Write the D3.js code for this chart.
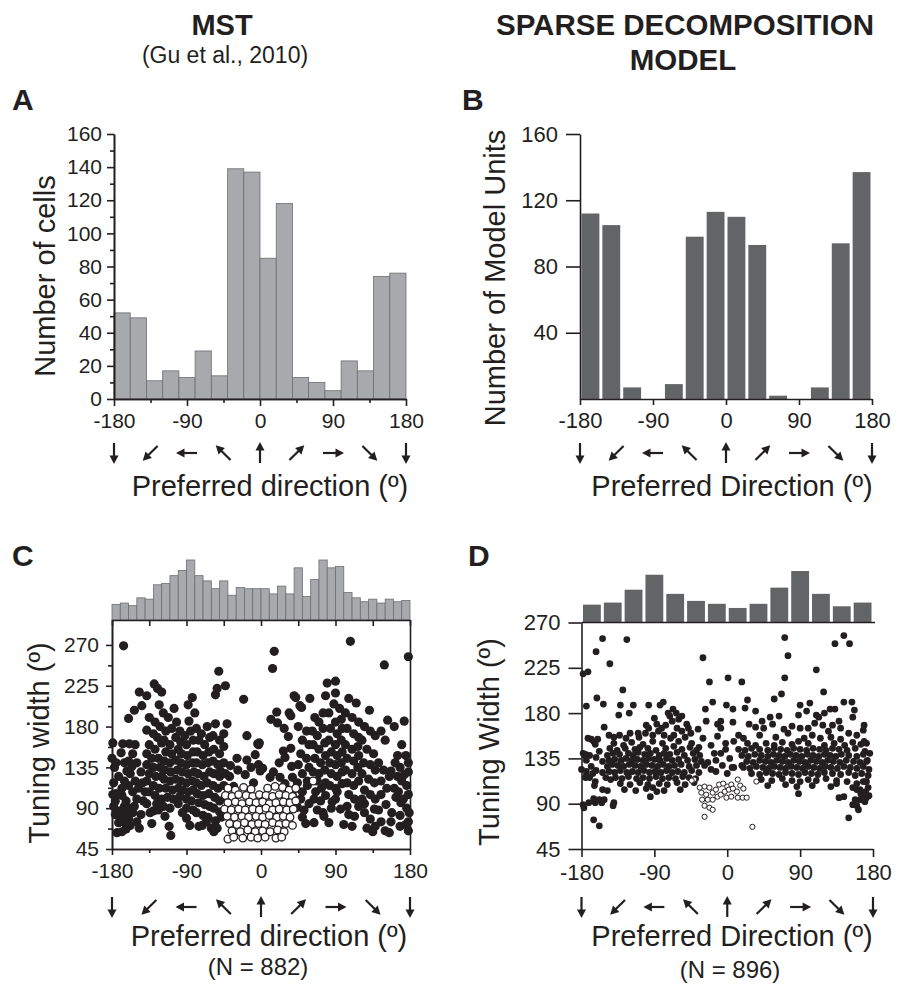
<!DOCTYPE html>
<html>
<head>
<meta charset="utf-8">
<script src="https://cdn.jsdelivr.net/npm/d3@7"></script>
<style>
  body { margin: 0; background: #fff; }
  svg text { font-family: "Liberation Sans", Arial, Helvetica, sans-serif; fill: #231f20; }
</style>
</head>
<body>
<div id="graph"></div>
<script>
const width = 905;
const height = 986;

const black = "#231f20";
const lightGray = "#a7a9ac";
const lightEdge = "#6d6e71";
const darkGray = "#636466";
const fontFamily = '"Liberation Sans", Arial, Helvetica, sans-serif';

// direction ticks and arrow glyphs
const dirMajor = [-180, -90, 0, 90, 180];
const dirMinor = [-135, -45, 45, 135];
const arrowDirs = [-180, -135, -90, -45, 0, 45, 90, 135, 180];

// A: MST preferred direction histogram (20 deg bins)
const mstCounts = [52, 49, 11, 17, 13, 29, 14, 139, 137, 85, 118, 13, 10, 5, 23, 17, 74, 76];
const mstCountTicks = [0, 20, 40, 60, 80, 100, 120, 140, 160];
const mstCountMinor = [10, 30, 50, 70, 90, 110, 130, 150];

// B: model preferred direction histogram (14 bins)
const modelCounts = [112, 105, 7, 0, 9, 98, 113, 110, 93, 2, 0, 7, 94, 137];
const modelCountTicks = [40, 80, 120, 160];

// C / D: tuning width
const widthTicks = [45, 90, 135, 180, 225, 270];
const widthMinor = [67.5, 112.5, 157.5, 202.5, 247.5];
const mstWidthHist = [12, 13, 11, 17, 16, 27, 28, 34, 38, 46, 34, 30, 24, 30, 19, 25, 24, 24,
  24, 20, 26, 20, 40, 18, 31, 46, 40, 41, 21, 17, 14, 16, 13, 16, 14, 15];
const modelWidthHist = [43, 48, 79, 115, 69, 52, 45, 35, 45, 84, 124, 69, 39, 48];

// C: [preferred direction, tuning width]
const mstFilled = [
  [-166,269],[-179,162],[-180,145],[-177,135],[-178,118],[-179,105],[-175,106],[-176,98],[-178,92],[-176,83],[-172,74],[-174,63],[-170,87],[-168,112],[-167,161],[-159,161],[-169,151],[-165,140],[-175,140],[-162,131],[-172,125],[-165,120],[-160,115],[-168,104],[-163,98],[-165,92],[-165,82],[-160,78],[-168,64],[-163,67],[-158,71],[-160,189],[-170,80],[-161,88],[-164,73],
  [-153,198],[-147,218],[-144,203],[-152,160],[-155,150],[-150,140],[-145,130],[-158,128],[-152,120],[-148,112],[-155,108],[-143,118],[-140,108],[-153,92],[-159,90],[-145,83],[-150,75],[-147,68],[-155,85],[-142,98],[-150,100],[-156,136],[-160,142],
  [-129,227],[-125,222],[-120,218],[-138,214],[-123,204],[-135,190],[-128,185],[-122,180],[-138,176],[-130,172],[-125,168],[-135,160],[-120,162],[-128,155],[-138,150],[-132,145],[-124,145],[-138,138],[-130,135],[-122,135],[-135,128],[-127,125],[-120,125],[-138,120],[-130,115],[-123,112],[-135,108],[-128,104],[-120,100],[-138,95],[-132,73],[-130,87],[-124,88],[-126,95],[-134,85],
  [-116,81],[-111,70],[-109,60],[-118,195],[-112,190],[-105,200],[-115,175],[-108,178],[-102,185],[-117,165],[-110,160],[-103,168],[-115,152],[-108,150],[-100,155],[-117,142],[-110,140],[-103,143],[-116,132],[-109,130],[-101,132],[-117,122],[-110,120],[-103,122],[-115,112],[-107,110],[-100,112],[-113,102],[-106,100],[-100,95],[-118,92],[-110,90],
  [-88,204],[-83,212],[-80,195],[-87,186],[-98,175],[-92,170],[-85,175],[-97,163],[-90,160],[-82,165],[-96,150],[-89,148],[-82,152],[-97,140],[-90,138],[-83,140],[-95,130],[-88,128],[-81,130],[-97,120],[-90,118],[-83,120],[-95,110],[-88,108],[-82,110],[-98,103],[-90,100],[-84,98],[-90,90],[-90,79],[-86,71],[-95,85],[-82,88],
  [-75,70],[-71,71],[-78,178],[-72,172],[-65,180],[-75,165],[-68,160],[-62,168],[-77,152],[-70,148],[-63,152],[-78,140],[-71,138],[-64,140],[-76,128],[-69,125],[-62,130],[-78,118],[-72,115],[-65,118],[-77,106],[-70,104],[-63,106],[-75,96],[-68,94],[-62,92],[-78,85],[-70,82],[-64,80],[-66,75],
  [-51,241],[-53,222],[-43,225],[-55,215],[-41,183],[-55,183],[-58,170],[-50,165],[-45,172],[-57,155],[-50,150],[-45,158],[-58,142],[-52,138],[-45,140],[-57,128],[-50,125],[-43,128],[-58,115],[-52,112],[-45,115],[-56,102],[-50,98],[-43,102],[-57,90],[-50,86],[-55,76],[-57,64],[-53,68],[-48,80],[-60,68],
  [-21,210],[-17,170],[-4,161],[-29,145],[-17,143],[-7,149],[-3,160],[-1,131],[-19,127],[-9,118],[-33,114],[-49,131],[-37,137],[-38,125],[-28,132],[-12,135],[-3,138],
  [16,263],[14,244],[2,134],[11,124],[-2,162],[40,214],[47,203],[19,196],[34,195],[12,188],[20,184],[36,192],[42,212],[49,201],[28,178],[33,169],[36,156],[29,146],[15,130],[23,124],[37,136],[29,117],[38,124],[44,91],[38,104],[42,112],[27,153],[22,140],
  [59,211],[50,165],[55,175],[45,180],[58,160],[48,150],[55,145],[45,138],[58,135],[50,128],[56,120],[50,108],[56,115],[44,118],[54,73],[50,80],[64,74],[58,95],[48,100],[52,88],
  [80,228],[78,214],[65,190],[70,185],[75,195],[62,175],[68,170],[75,178],[63,160],[70,155],[77,162],[65,145],[72,140],[78,148],[63,130],[70,128],[77,132],[66,108],[73,112],[78,118],[64,100],[72,98],[78,104],[68,88],[75,85],[82,74],[76,81],[68,120],
  [90,230],[90,217],[88,205],[95,200],[82,195],[90,185],[97,188],[84,178],[92,172],[98,178],[82,165],[90,160],[97,165],[85,152],[92,148],[98,152],[83,140],[90,138],[97,140],[85,128],[92,125],[98,130],[83,115],[90,112],[98,117],[86,97],[92,108],[96,89],[100,72],[85,90],[90,100],
  [108,274],[106,211],[115,206],[102,195],[110,190],[118,185],[104,178],[112,172],[118,168],[102,160],[110,155],[117,158],[104,145],[112,142],[118,148],[102,132],[110,128],[117,135],[104,118],[112,115],[118,120],[106,105],[113,100],[106,83],[113,81],[104,92],[118,92],[110,70],
  [131,198],[125,180],[132,175],[138,170],[122,165],[128,155],[136,150],[124,140],[132,138],[138,132],[122,128],[130,122],[137,118],[125,110],[132,105],[138,100],[125,95],[137,89],[125,85],[132,78],[138,70],[128,68],[135,64],[122,100],
  [149,248],[153,187],[161,180],[145,175],[150,165],[165,148],[157,131],[142,140],[148,132],[155,125],[145,120],[152,112],[161,112],[145,105],[151,94],[157,75],[145,75],[163,102],[169,96],[150,65],[155,63],[142,88],[158,85],
  [178,257],[173,186],[175,148],[168,135],[173,127],[179,85],[176,90],[168,82],[178,140],[178,130],[170,120],[176,115],[166,108],[172,100],[178,105],[175,72],[178,65],[168,70],[165,125],[162,140],[170,160],[178,75]
];
const mstOpen = [
  [-40,112],[-31,110],[-21,113],[-12,111],[8,112],[17,114],[26,113],[34,110],[42,112],
  [-43,104],[-35,103],[-27,105],[-18,104],[-10,103],[-2,105],[6,104],[14,103],[22,105],[30,104],[38,103],
  [-40,96],[-31,97],[-23,95],[-14,97],[-6,96],[2,97],[10,95],[18,96],[27,97],[35,96],[42,98],
  [-44,89],[-36,88],[-27,89],[-19,88],[-10,89],[-2,88],[6,90],[14,88],[22,89],[31,88],[39,89],
  [-41,81],[-32,80],[-23,81],[-15,80],[-6,81],[2,80],[10,82],[19,80],[27,81],[35,80],
  [-38,73],[-29,72],[-20,74],[-11,72],[-3,73],[5,72],[14,74],[22,72],[30,73],[38,71],
  [-35,65],[-25,64],[-16,66],[-7,64],[2,65],[11,64],[20,66],[28,64],
  [-40,56],[-33,58],[-22,57],[-12,58],[-4,57],[5,58],[18,57],[25,58],[63,120]
];

// D: [preferred direction, tuning width]
const modelFilled = [
  [-178,219],[-172,221],[-162,241],[-154,254],[-145,229],[-124,253],[-129,203],[-30,235],[-22,211],[-174,187],[-161,195],[-153,189],
  [-132,188],[-116,188],[-121,180],[-134,178],[-97,188],[-83,188],[-79,191],[-27,184],[-18,191],
  [-152,166],[-146,158],[-160,154],[-168,154],[-172,155],[-165,152],[-163,149],[-158,142],[-175,139],[-178,140],[-176,138],
  [-166,120],[-163,112],[-175,116],[-180,124],[-174,122],[-174,118],[-170,116],[-170,138],[-162,136],[-154,132],[-174,133],[-168,127],[-162,123],[-154,121],[-150,116],[-144,114],
  [-164,108],[-154,104],[-148,103],[-165,95],[-158,94],[-152,94],[-177,86],[-171,91],[-163,91],[-155,91],[-178,89],[-141,88],[-165,74],[-158,68],[-140,91],
  [-95,97],[-87,102],[-133,158],[-120,160],[-109,156],[-101,160],[-97,165],[-87,169],[-81,165],[-71,177],[-63,180],[-56,177],[-50,169],[-48,165],[-36,164],[-26,172],[-12,169],[-8,165],[-20,148],[-24,131],[-14,133],[-8,140],
  [-140,150],[-128,148],[-118,151],[-104,149],[-92,152],[-80,150],[-70,155],[-60,152],[-52,156],[-44,150],
  [-145,145],[-136,143],[-126,145],[-114,144],[-108,146],[-98,145],[-88,143],[-76,145],[-66,147],[-56,144],[-46,146],[-38,143],
  [-148,138],[-141,140],[-133,139],[-122,140],[-116,138],[-110,141],[-102,139],[-95,140],[-84,138],[-78,140],[-71,139],[-62,141],[-53,138],[-42,140],[-34,138],
  [-146,133],[-139,134],[-131,133],[-125,135],[-118,133],[-111,134],[-104,133],[-97,135],[-90,134],[-83,133],[-75,135],[-68,133],[-60,134],[-49,133],[-40,134],[-32,132],
  [-148,127],[-142,129],[-135,128],[-128,127],[-121,129],[-114,128],[-107,127],[-100,129],[-93,128],[-86,127],[-79,129],[-72,127],[-65,128],[-57,129],[-47,127],[-38,128],
  [-146,122],[-139,121],[-132,123],[-124,121],[-117,122],[-110,121],[-103,123],[-96,121],[-89,122],[-82,121],[-75,123],[-68,121],[-61,122],[-53,121],[-44,123],[-35,121],
  [-138,116],[-130,115],[-122,117],[-112,115],[-104,116],[-96,115],[-88,117],[-80,115],[-72,116],[-64,115],[-55,117],[-47,116],[-39,115],
  [-132,110],[-120,109],[-108,111],[-98,109],[-92,106],[-84,110],[-74,109],[-62,111],[-52,109],[-41,111],
  [-127,104],[-113,103],[-100,105],[-78,103],[-58,104],
  [-110,160],[-100,168],[-92,158],[-85,162],[-76,168],[-68,172],[-62,165],[-56,162],[-45,160],[-78,158],[-66,158],[-125,155],[-140,156],[-90,175],[-60,174],[-73,180],[-67,184],
  [-30,155],[-28,128],[-20,124],[-14,122],[-6,128],[-2,150],[3,135],[-35,146],[-12,157],[-16,140],[0,120],[8,126],
  [71,255],[75,237],[71,215],[110,223],[144,257],[133,249],[151,249],[1,215],[18,211],[67,199],[58,194],[119,201],[25,193],[-1,188],[7,184],[90,188],[102,190],[127,184],[133,184],[144,191],[154,191],[157,183],[169,168],[169,152],[113,176],[88,178],[64,177],[22,185],[35,182],[-8,172],[7,171],[27,169],[53,176],[43,172],[56,169],[150,76],[155,89],[158,94],[167,96],[171,102],[138,96],[144,97],[14,158],[8,152],[-2,144],[18,128],[6,126],
  [164,94],[168,112],[160,104],[135,110],[172,132],[168,163],[155,176],
  [20,155],[40,158],[60,156],[75,160],[95,155],[105,158],[115,155],[128,156],[140,154],[150,160],
  [25,150],[35,148],[48,150],[58,148],[68,151],[80,149],[88,152],[100,150],[120,148],[132,150],[145,148],[155,151],[165,149],
  [14,144],[22,143],[30,145],[40,144],[50,143],[58,145],[66,144],[74,143],[82,145],[90,144],[98,143],[106,145],[114,144],[122,143],[130,145],[138,144],[148,143],[158,145],[170,142],
  [18,138],[26,137],[34,139],[42,138],[50,137],[57,139],[64,138],[71,137],[78,139],[85,138],[92,137],[99,139],[106,138],[113,137],[120,139],[127,138],[134,137],[141,139],[150,138],[160,137],[168,139],
  [24,132],[32,131],[40,133],[47,132],[54,131],[61,133],[68,132],[75,131],[82,133],[89,132],[96,131],[103,133],[110,132],[117,131],[124,133],[131,132],[139,131],[147,133],[156,132],[164,131],[173,133],
  [20,126],[28,125],[36,127],[44,126],[51,125],[58,127],[65,126],[72,125],[79,127],[86,126],[93,125],[100,127],[107,126],[114,125],[121,127],[128,126],[136,125],[144,127],[152,126],[160,125],[168,127],
  [30,120],[40,119],[48,121],[56,120],[64,119],[72,121],[80,120],[88,119],[96,121],[104,120],[112,119],[120,121],[130,120],[140,119],[150,121],[158,118],[166,120],[174,118],
  [42,114],[55,113],[68,115],[80,113],[90,112],[100,114],[110,113],[122,115],[135,113],[148,112],[160,110],[170,112],
  [50,108],[72,109],[86,107],[105,108],[128,107],[155,106],[164,104],[174,106],
  [88,100],[165,100],[172,96],
  [100,165],[108,170],[118,168],[125,162],[130,168],[90,165],[80,167],[70,164],[45,165],[35,166],[140,165],[110,178],[120,180],[98,182],[138,172],[160,158],[172,150],[176,140],[175,124],[172,112],[170,92],[162,84],[160,88],[175,98]
];
const modelOpen = [
  [-41,114],[-44,113],[-34,106],[-28,107],[-22,106],[-32,101],[-26,99],[-18,101],[-14,104],[-10,109],[-31,94],[-24,94],[-18,94],[-12,97],[-28,88],[-22,86],[-18,84],[-28,77],[-8,99],
  [-5,110],[0,107],[5,109],[-3,102],[2,104],[7,105],[13,114],[16,108],[20,105],[12,102],[-1,96],[5,97],[13,96],[19,96],[24,96],[36,112],[31,67]
];

let plain = d => String(d);

let svg = d3.select('#graph')
  .append('svg')
  .attr('width', width)
  .attr('height', height);

function styleAxis(g, fontSize) {
  g.selectAll('path, line').attr('stroke', black).attr('stroke-width', 1.6);
  g.selectAll('text')
    .attr('fill', black)
    .attr('font-family', fontFamily)
    .attr('font-size', fontSize);
}

function addText(txt, x, y, size, opts = {}) {
  let t = svg.append('text')
    .attr('x', x)
    .attr('y', y)
    .attr('text-anchor', opts.anchor || 'middle')
    .attr('font-size', size)
    .attr('font-weight', opts.bold ? 'bold' : 'normal')
    .text(txt);
  if (opts.rotate) {
    t.attr('x', 0).attr('y', 0)
      .attr('transform', `translate(${x},${y}) rotate(-90)`);
  }
  return t;
}

function drawArrows(x, cy) {
  let arrow = svg.append('g').attr('class', 'arrows')
    .selectAll('g').data(arrowDirs).enter()
    .append('g')
    .attr('transform', d => `translate(${x(d)},${cy}) rotate(${d})`);
  arrow.append('line')
    .attr('x1', 0).attr('y1', 10)
    .attr('x2', 0).attr('y2', -4)
    .attr('stroke', black)
    .attr('stroke-width', 2.2);
  arrow.append('path')
    .attr('d', 'M0,-11L-4.5,-2.5L4.5,-2.5Z')
    .attr('fill', black);
}

function drawBars(g, counts, x, y, fill, stroke, gap) {
  let step = 360 / counts.length;
  g.selectAll('rect').data(counts).enter()
    .append('rect')
    .attr('x', (d, i) => x(-180 + i * step) + gap)
    .attr('width', (d, i) => x(-180 + (i + 1) * step) - x(-180 + i * step) - 2 * gap)
    .attr('y', d => y(d))
    .attr('height', d => y(0) - y(d))
    .attr('fill', fill)
    .attr('stroke', stroke || 'none')
    .attr('stroke-width', stroke ? 0.8 : 0);
}

// ---------- titles ----------
addText('MST', 222, 35, 29, { bold: true });
addText('(Gu et al., 2010)', 225, 63, 23);
addText('SPARSE DECOMPOSITION', 685, 35, 29.5, { bold: true });
addText('MODEL', 683, 70, 29.5, { bold: true });
addText('A', 12, 110, 30, { bold: true, anchor: 'start' });
addText('B', 462, 110, 30, { bold: true, anchor: 'start' });
addText('C', 12, 566, 30, { bold: true, anchor: 'start' });
addText('D', 468, 566, 30, { bold: true, anchor: 'start' });

// ---------- A ----------
let xA = d3.scaleLinear().domain([-180, 180]).range([114, 406]);
let yA = d3.scaleLinear().domain([0, 160]).range([399, 134]);
drawBars(svg.append('g').attr('class', 'bars-a'), mstCounts, xA, yA, lightGray, lightEdge, 0);
let axA = svg.append('g').attr('class', 'axis');
axA.append('g').attr('transform', 'translate(114,0)')
  .call(d3.axisLeft(yA).tickValues(mstCountMinor).tickSize(4).tickSizeOuter(0).tickFormat(''));
axA.append('g').attr('transform', 'translate(114,0)')
  .call(d3.axisLeft(yA).tickValues(mstCountTicks).tickSize(7).tickSizeOuter(0).tickPadding(5).tickFormat(plain));
axA.append('g').attr('transform', 'translate(0,399)')
  .call(d3.axisBottom(xA).tickValues(dirMinor).tickSize(4).tickSizeOuter(0).tickFormat(''));
axA.append('g').attr('transform', 'translate(0,399)')
  .call(d3.axisBottom(xA).tickValues(dirMajor).tickSize(7).tickSizeOuter(0).tickPadding(7).tickFormat(plain));
styleAxis(axA, 21);
drawArrows(xA, 453);
addText('Number of cells', 55, 276, 29, { rotate: true });
addText('Preferred direction (º)', 270, 496, 29);

// ---------- B ----------
let xB = d3.scaleLinear().domain([-180, 180]).range([580, 872]);
let yB = d3.scaleLinear().domain([0, 160]).range([399, 134]);
drawBars(svg.append('g').attr('class', 'bars-b'), modelCounts, xB, yB, darkGray, null, 1.5);
let axB = svg.append('g').attr('class', 'axis');
axB.append('g').attr('transform', 'translate(580,0)')
  .call(d3.axisLeft(yB).tickValues(modelCountTicks).tickSize(14).tickSizeOuter(0).tickPadding(8).tickFormat(plain));
axB.append('g').attr('transform', 'translate(0,399)')
  .call(d3.axisBottom(xB).tickValues(dirMajor).tickSize(6).tickSizeOuter(0).tickPadding(7).tickFormat(plain));
styleAxis(axB, 22);
drawArrows(xB, 453);
addText('Number of Model Units', 505, 278, 29, { rotate: true });
addText('Preferred Direction (º)', 732, 496, 29);

// ---------- C ----------
let xC = d3.scaleLinear().domain([-180, 180]).range([112, 410]);
let yC = d3.scaleLinear().domain([45, 297.5]).range([849, 620]);
let hC = d3.scaleLinear().domain([0, 46]).range([620, 560]);
drawBars(svg.append('g').attr('class', 'hist-c'), mstWidthHist, xC, hC, lightGray, lightEdge, 0);

let dotsC = svg.append('g').attr('class', 'dots-c');
dotsC.selectAll('.dot').data(mstFilled).enter()
  .append('circle')
  .attr('class', 'dot')
  .attr('cx', d => xC(d[0]))
  .attr('cy', d => yC(d[1]))
  .attr('r', 4.6)
  .attr('fill', black);
dotsC.selectAll('.open').data(mstOpen).enter()
  .append('circle')
  .attr('class', 'open')
  .attr('cx', d => xC(d[0]))
  .attr('cy', d => yC(d[1]))
  .attr('r', 3.8)
  .attr('fill', '#fff')
  .attr('stroke', black)
  .attr('stroke-width', 1.3);

let axC = svg.append('g').attr('class', 'axis');
axC.append('g').attr('transform', 'translate(112,0)')
  .call(d3.axisLeft(yC).tickValues(widthMinor).tickSize(4).tickSizeOuter(0).tickFormat(''));
axC.append('g').attr('transform', 'translate(112,0)')
  .call(d3.axisLeft(yC).tickValues(widthTicks).tickSize(6).tickSizeOuter(0).tickPadding(7).tickFormat(plain));
axC.append('g').attr('transform', 'translate(0,849)')
  .call(d3.axisBottom(xC).tickValues(dirMinor).tickSize(4).tickSizeOuter(0).tickFormat(''));
axC.append('g').attr('transform', 'translate(0,849)')
  .call(d3.axisBottom(xC).tickValues(dirMajor).tickSize(6).tickSizeOuter(0).tickPadding(8).tickFormat(plain));
// top frame with inward ticks
axC.append('g').attr('transform', 'translate(0,620)')
  .call(d3.axisBottom(xC).tickValues(dirMajor.concat(dirMinor)).tickSize(6).tickSizeOuter(0).tickFormat(''));
// right frame
axC.append('g').attr('transform', 'translate(410,0)')
  .call(d3.axisRight(yC).tickValues([]).tickSizeOuter(0));
styleAxis(axC, 21);
drawArrows(xC, 907);
addText('Tuning width (º)', 49, 743, 29, { rotate: true });
addText('Preferred direction (º)', 269, 946, 29);
addText('(N = 882)', 258, 975, 24);

// ---------- D ----------
let xD = d3.scaleLinear().domain([-180, 180]).range([581.5, 873]);
let yD = d3.scaleLinear().domain([45, 270]).range([849, 622.5]);
let hD = d3.scaleLinear().domain([0, 124]).range([622.5, 571]);
drawBars(svg.append('g').attr('class', 'hist-d'), modelWidthHist, xD, hD, darkGray, null, 1.5);

let dotsD = svg.append('g').attr('class', 'dots-d');
dotsD.selectAll('.dot').data(modelFilled).enter()
  .append('circle')
  .attr('class', 'dot')
  .attr('cx', d => xD(d[0]))
  .attr('cy', d => yD(d[1]))
  .attr('r', 3.4)
  .attr('fill', black);
dotsD.selectAll('.open').data(modelOpen).enter()
  .append('circle')
  .attr('class', 'open')
  .attr('cx', d => xD(d[0]))
  .attr('cy', d => yD(d[1]))
  .attr('r', 2.6)
  .attr('fill', '#fff')
  .attr('stroke', black)
  .attr('stroke-width', 1);

let axD = svg.append('g').attr('class', 'axis');
axD.append('g').attr('transform', 'translate(581.5,0)')
  .call(d3.axisLeft(yD).tickValues(widthTicks).tickSize(13).tickSizeOuter(0).tickPadding(8).tickFormat(plain));
axD.append('g').attr('transform', 'translate(0,849)')
  .call(d3.axisBottom(xD).tickValues(dirMajor).tickSize(8).tickSizeOuter(0).tickPadding(7).tickFormat(plain));
// histogram baseline
axD.append('line')
  .attr('x1', xD(-180)).attr('x2', xD(180) + 2)
  .attr('y1', yD(270)).attr('y2', yD(270));
styleAxis(axD, 22);
drawArrows(xD, 907);
addText('Tuning Width (º)', 499, 742, 29, { rotate: true });
addText('Preferred Direction (º)', 732, 946, 29);
addText('(N = 896)', 730, 978, 24);
</script>
</body>
</html>
